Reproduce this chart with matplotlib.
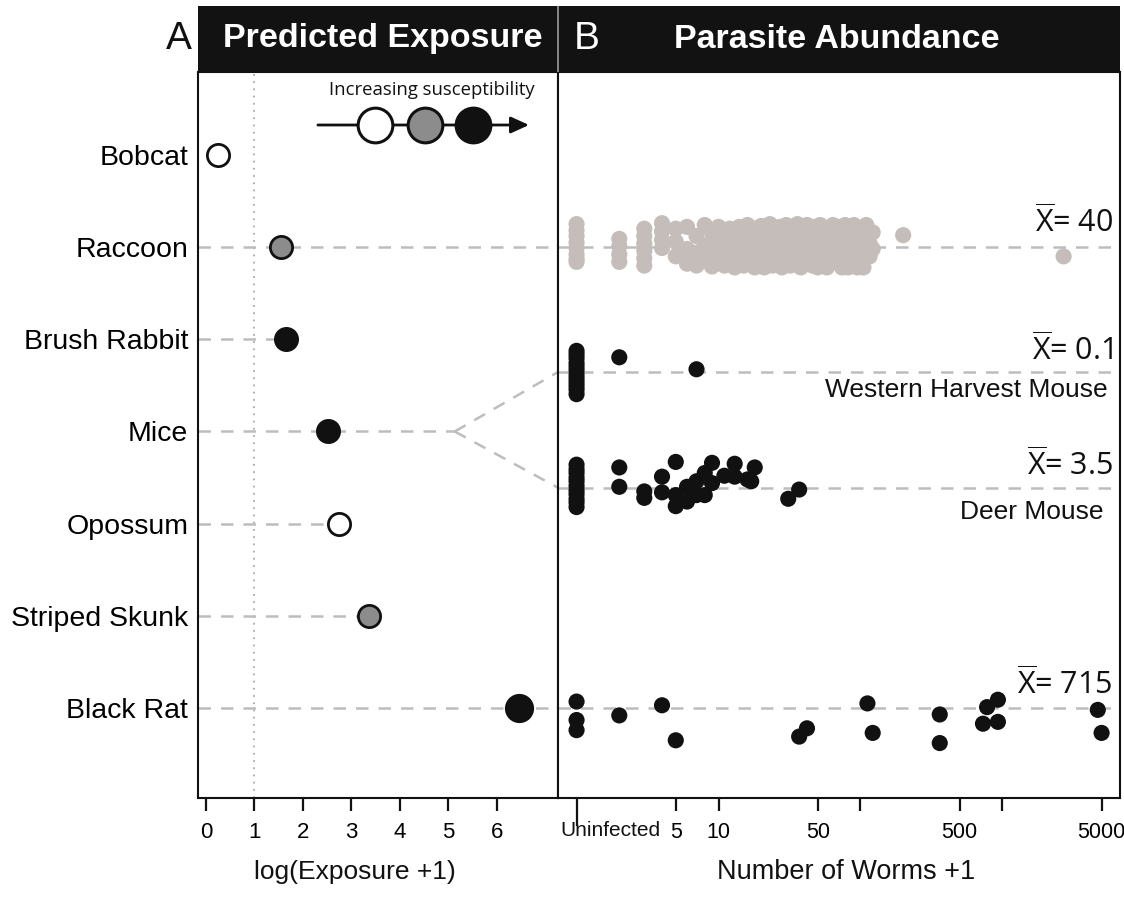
import matplotlib
matplotlib.use('Agg')
import matplotlib.pyplot as plt
from matplotlib.ticker import FixedLocator, NullFormatter, FixedFormatter
import matplotlib.transforms as mtransforms

plt.rcParams['mathtext.fontset'] = 'custom'
plt.rcParams['mathtext.rm'] = 'Open Sans'
plt.rcParams['mathtext.it'] = 'Open Sans:italic'
plt.rcParams['mathtext.bf'] = 'Open Sans:bold'

# ---------------- data ----------------
species = ['Bobcat', 'Raccoon', 'Brush Rabbit', 'Mice', 'Opossum', 'Striped Skunk', 'Black Rat']
rows = [6, 5, 4, 3, 2, 1, 0]
exposure = [0.25, 1.55, 1.65, 2.52, 2.74, 3.36, 6.45]          # log(Exposure + 1)
susceptibility = ['low', 'mid', 'high', 'high', 'low', 'mid', 'high']

exp_ticks = [0, 1, 2, 3, 4, 5, 6]
worm_ticks = [5, 10, 50, 100, 500, 1000, 5000]
worm_tick_labels = ['5', '10', '50', '', '500', '', '5000']

# (worms + 1, vertical jitter in row units)
raccoon = [
    (1, 0.25), (1, 0.18), (1, 0.12), (1, 0.05), (1, -0.01), (1, -0.08), (1, -0.13), (1, -0.16),
    (2, 0.09), (2, 0.01), (2, -0.08), (2, -0.16),
    (3, 0.20), (3, 0.12), (3, 0.04), (3, -0.04), (3, -0.12), (3, -0.20),
    (4, 0.26), (4, 0.17), (4, 0.08), (4, -0.01),
    (5, 0.20), (5, 0.06), (5, -0.10), (6, 0.22), (6, -0.02), (6, -0.18),
    (7, 0.12), (7, -0.06), (7, -0.20), (8, 0.24), (8, 0.02), (8, -0.14),
    (9, 0.16), (9, -0.08), (9, -0.21), (10, 0.22), (10, 0.05), (10, -0.12),
    (11, 0.14), (11, -0.04), (11, -0.20), (12, 0.20), (12, 0.00), (12, -0.16),
    (13, 0.10), (13, -0.10), (13, -0.22), (14, 0.22), (14, 0.04), (14, -0.14),
    (15, 0.15), (15, -0.05), (15, -0.20), (16, 0.24), (16, -0.12),
    (17, 0.08), (17, -0.18), (18, 0.20), (18, 0.00), (18, -0.22),
    (19, 0.12), (19, -0.10), (20, 0.23), (20, -0.16), (21, 0.05), (21, -0.22),
    (22, 0.18), (22, -0.06), (23, 0.25), (23, -0.14), (24, 0.10), (24, -0.20),
    (25, 0.20), (25, -0.02), (26, 0.03), (26, -0.17), (27, 0.22), (27, -0.10),
    (28, 0.14), (28, -0.22), (30, 0.24), (30, 0.00), (30, -0.14),
    (32, 0.10), (32, -0.20), (34, 0.20), (34, -0.06), (36, 0.25), (36, -0.16),
    (38, 0.08), (38, -0.22), (40, 0.18), (40, 0.00), (40, -0.12),
    (42, 0.24), (42, -0.18), (44, 0.12), (44, -0.04), (46, 0.22), (46, -0.20),
    (48, 0.04), (48, -0.12), (50, 0.16), (50, -0.22), (52, 0.24), (52, -0.02),
    (55, 0.10), (55, -0.14), (58, 0.20), (58, -0.22), (61, 0.02), (61, -0.10),
    (64, 0.24), (64, 0.12), (67, -0.16), (67, 0.06), (70, 0.22), (70, -0.04),
    (74, 0.14), (74, -0.22), (78, 0.24), (78, -0.12), (82, 0.08), (82, -0.22),
    (86, 0.18), (86, -0.02), (90, 0.24), (90, -0.14), (95, 0.10), (95, -0.22),
    (100, 0.20), (100, -0.08), (105, 0.02), (105, -0.22), (110, 0.24), (110, 0.14),
    (116, 0.04), (116, -0.10), (122, 0.16), (122, -0.02),
    (200, 0.13), (2700, -0.10),
]
harvest_mouse = [
    (1, 0.23), (1, 0.19), (1, 0.15), (1, 0.10), (1, 0.06), (1, 0.02), (1, -0.03),
    (1, -0.07), (1, -0.11), (1, -0.15), (1, -0.19), (1, -0.24),
    (2, 0.16), (7, 0.03),
]
deer_mouse = [
    (1, 0.25), (1, 0.20), (1, 0.16), (1, 0.11), (1, 0.07), (1, 0.02), (1, -0.03),
    (1, -0.07), (1, -0.12), (1, -0.16), (1, -0.21),
    (2, 0.22), (2, 0.01), (3, -0.04), (3, -0.11), (4, 0.12), (4, -0.05),
    (5, 0.28), (5, -0.08), (5, -0.20), (6, 0.01), (6, -0.15), (7, 0.07), (7, -0.08),
    (8, 0.16), (8, -0.08), (9, 0.27), (9, 0.05), (11, 0.13), (13, 0.26), (13, 0.12),
    (16, 0.09), (18, 0.22), (17, 0.07), (31, -0.12), (37, -0.02),
]
black_rat = [
    (1, 0.07), (1, -0.13), (1, -0.24), (2, -0.08), (4, 0.03), (5, -0.35),
    (37, -0.31), (42, -0.22), (112, 0.05), (122, -0.27), (362, -0.07), (362, -0.38),
    (780, 0.01), (930, 0.09), (730, -0.17), (930, -0.15), (4700, -0.02), (5000, -0.27),
]
group_rows = {'raccoon': 5.0, 'harvest': 3.645, 'deer': 2.39, 'rat': 0.0}
mean_values = ['40', '0.1', '3.5', '715']

# ---------------- styling ----------------
W, H = 1124, 916
def fx(px): return px / W
def fy(py): return 1 - py / H

SANS = ['Liberation Sans', 'DejaVu Sans']
MYR = ['Open Sans', 'DejaVu Sans']
DASH = '#bdbdbd'
fill = {'low': 'white', 'mid': '#8c8c8c', 'high': '#111111'}

fig = plt.figure(figsize=(W / 100, H / 100), dpi=100)

axA = fig.add_axes([fx(198), fy(798), fx(558) - fx(198), fy(72) - fy(798)])
axB = fig.add_axes([fx(558), fy(798), fx(1120) - fx(558), fy(72) - fy(798)])
axH = fig.add_axes([fx(198), fy(72), fx(1120) - fx(198), fy(6) - fy(72)])

# header band
axH.set_facecolor('#121212')
axH.set_xticks([]); axH.set_yticks([])
for s in axH.spines.values():
    s.set_visible(False)
axH.axvline((558 - 198) / (1120 - 198), color='#9a9a9a', lw=1.2)
axH.text((383 - 198) / 922, 0.5, 'Predicted Exposure', color='white', fontsize=24.5,
         fontweight='bold', family=SANS, ha='center', va='center')
axH.text((837 - 198) / 922, 0.5, 'Parasite Abundance', color='white', fontsize=24.5,
         fontweight='bold', family=SANS, ha='center', va='center')
axH.text((587 - 198) / 922, 0.5, 'B', color='white', fontsize=28, family=SANS,
         ha='center', va='center')
fig.text(fx(179), fy(39), 'A', color='#111111', fontsize=28, family=SANS,
         ha='center', va='center')

# ---------------- panel A ----------------
xA0, xA1 = -0.165, 7.26
y0, y1 = -0.976, 6.90
axA.set_xlim(xA0, xA1)
axA.set_ylim(y0, y1)
axB.set_ylim(y0, y1)
axA.axvline(1, color='#aaaaaa', ls=(0, (1, 3)), lw=1.3, zorder=1)

dash_kw = dict(color=DASH, lw=1.8, ls=(0, (5, 4)), zorder=1)
for sp, r, e in zip(species, rows, exposure):
    if sp in ('Raccoon', 'Black Rat'):
        axA.plot([xA0, xA1], [r, r], **dash_kw)
    elif sp == 'Mice':
        axA.plot([xA0, 5.13], [r, r], **dash_kw)
        axA.plot([5.13, xA1], [r, group_rows['harvest']], **dash_kw)
        axA.plot([5.13, xA1], [r, group_rows['deer']], **dash_kw)
    elif sp != 'Bobcat':
        axA.plot([xA0, e], [r, r], **dash_kw)

for sp, r, e, s in zip(species, rows, exposure, susceptibility):
    ms = 19 if sp == 'Black Rat' else 16
    axA.plot(e, r, 'o', ms=ms, mfc=fill[s], mec='#111111', mew=2, zorder=5)

axA.set_yticks(rows)
axA.set_yticklabels(species, fontsize=20.5, family=SANS)
axA.tick_params(axis='y', length=0, pad=7)
axA.set_xticks(exp_ticks)
axA.set_xticklabels([str(t) for t in exp_ticks], fontsize=16, family=SANS)
axA.tick_params(axis='x', length=9, width=1.6, pad=8, color='#111111')

# legend drawn inside panel A
ly = 6.325
axA.annotate('', xy=(6.72, ly), xytext=(2.25, ly),
             arrowprops=dict(arrowstyle='-|>,head_length=1.1,head_width=0.5',
                             color='#111111', lw=2), zorder=6)
for lx, s in zip([3.48, 4.52, 5.51], ['low', 'mid', 'high']):
    axA.plot(lx, ly, 'o', ms=25, mfc=fill[s], mec='#111111', mew=2.2, zorder=7)
axA.text(4.66, 6.70, 'Increasing susceptibility', fontsize=13.3, family=MYR,
         ha='center', va='center', color='#111111')

# ---------------- panel B ----------------
axB.set_xscale('log')
axB.set_xlim(0.74, 6740)
trB = mtransforms.blended_transform_factory(axB.transAxes, axB.transData)
for key in ['raccoon', 'harvest', 'deer', 'rat']:
    axB.plot([0, 1], [group_rows[key]] * 2, transform=trB, **dash_kw)

def scatter(points, row, color):
    xs = [p[0] for p in points]
    ys = [row + p[1] for p in points]
    axB.scatter(xs, ys, s=135, color=color, edgecolors='none', zorder=4)

scatter(raccoon, group_rows['raccoon'], '#c4bdb9')
scatter(harvest_mouse, group_rows['harvest'], '#111111')
scatter(deer_mouse, group_rows['deer'], '#111111')
scatter(black_rat, group_rows['rat'], '#111111')

axB.xaxis.set_major_locator(FixedLocator(worm_ticks))
axB.xaxis.set_major_formatter(FixedFormatter(worm_tick_labels))
axB.xaxis.set_minor_locator(FixedLocator([1]))
axB.xaxis.set_minor_formatter(NullFormatter())
axB.tick_params(axis='x', which='major', length=9, width=1.6, pad=8,
                labelsize=15.5, color='#111111')
axB.tick_params(axis='x', which='minor', length=20, width=1.6, color='#111111')
for lab in axB.get_xticklabels():
    lab.set_family(SANS)
axB.set_yticks([])
axB.text(0.005, -0.045, 'Uninfected', transform=axB.transAxes,
         fontsize=15, family=SANS, ha='left', va='center', color='#111111')

xr = (1113 - 558) / 562
for val, yv in zip(mean_values, [5.27, 3.88, 2.63, 0.25]):
    axB.text(xr, yv, r'$\overline{\mathrm{X}}$= ' + val, transform=trB, fontsize=22,
             family=MYR, ha='right', va='center', color='#111111')
axB.text((1108 - 558) / 562, 3.45, 'Western Harvest Mouse', transform=trB,
         fontsize=19, family=SANS, ha='right', va='center', color='#111111')
axB.text((1103 - 558) / 562, 2.13, 'Deer Mouse', transform=trB,
         fontsize=19, family=SANS, ha='right', va='center', color='#111111')

for ax in (axA, axB):
    for s in ax.spines.values():
        s.set_linewidth(1.5)
        s.set_color('#111111')

fig.text(fx(355), fy(872), 'log(Exposure +1)', fontsize=19, family=SANS,
         ha='center', va='center', color='#111111')
fig.text(fx(846), fy(872), 'Number of Worms +1', fontsize=19.5, family=SANS,
         ha='center', va='center', color='#111111')

fig.savefig('out.png', dpi=100)
